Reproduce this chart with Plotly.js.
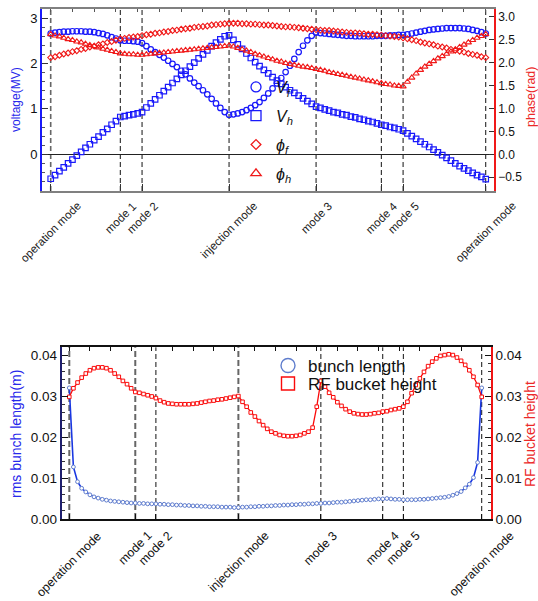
<!DOCTYPE html>
<html>
<head>
<meta charset="utf-8">
<script src="https://cdn.plot.ly/plotly-3.0.1.min.js"></script>
<style>
html,body{margin:0;padding:0;background:#fff;}
#chart{width:538px;height:601px;}
</style>
</head>
<body>
<div id="chart"></div>
<script>
// ---------------- data ----------------
const modePos = [0, 16, 21, 41, 61, 76, 81, 100];
const modeLabels = ["operation mode", "mode 1", "mode 2", "injection mode", "mode 3", "mode 4", "mode 5", "operation mode"];

// top panel: voltages (MV) and phases (rad), one value per sample index
const Vf = [2.66, 2.68, 2.69, 2.70, 2.70, 2.71, 2.71, 2.71, 2.70, 2.70, 2.69, 2.67, 2.65, 2.62, 2.58, 2.55, 2.51,
  2.50, 2.50, 2.49, 2.48, 2.45,
  2.38, 2.31, 2.25, 2.19, 2.13, 2.06, 1.99, 1.92, 1.84, 1.76, 1.67, 1.58, 1.50, 1.41, 1.32, 1.22, 1.12, 1.02, 0.93, 0.87,
  0.88, 0.90, 0.93, 0.97, 1.02, 1.08, 1.15, 1.24, 1.34, 1.45, 1.56, 1.68, 1.81, 1.95, 2.10, 2.25, 2.39, 2.51, 2.61, 2.68,
  2.67, 2.66, 2.65, 2.64, 2.63, 2.62, 2.61, 2.61, 2.60, 2.60, 2.60, 2.60, 2.60, 2.61, 2.61,
  2.61, 2.62, 2.62, 2.63, 2.63,
  2.64, 2.66, 2.68, 2.70, 2.72, 2.74, 2.75, 2.76, 2.77, 2.78, 2.78, 2.78, 2.78, 2.77, 2.76, 2.74, 2.72, 2.69, 2.66];

const Vh = [-0.54, -0.46, -0.37, -0.29, -0.20, -0.12, -0.03, 0.05, 0.14, 0.22, 0.31, 0.39, 0.48, 0.56, 0.65, 0.73, 0.82,
  0.84, 0.86, 0.88, 0.90, 0.93,
  1.03, 1.12, 1.21, 1.30, 1.39, 1.48, 1.57, 1.66, 1.75, 1.84, 1.93, 2.02, 2.11, 2.20, 2.29, 2.38, 2.46, 2.53, 2.60, 2.62,
  2.52, 2.42, 2.32, 2.22, 2.12, 2.03, 1.94, 1.86, 1.78, 1.70, 1.62, 1.55, 1.48, 1.41, 1.35, 1.29, 1.23, 1.17, 1.11, 1.05,
  1.02, 0.99, 0.96, 0.93, 0.91, 0.88, 0.86, 0.83, 0.81, 0.78, 0.76, 0.73, 0.71, 0.68, 0.65,
  0.63, 0.60, 0.58, 0.55, 0.52,
  0.46, 0.40, 0.34, 0.28, 0.22, 0.16, 0.10, 0.04, -0.02, -0.08, -0.14, -0.20, -0.26, -0.31, -0.36, -0.41, -0.46, -0.50, -0.55];

const phiF = [2.11, 2.13, 2.16, 2.19, 2.21, 2.24, 2.26, 2.29, 2.31, 2.34, 2.36, 2.39, 2.41, 2.44, 2.46, 2.49, 2.52,
  2.53, 2.55, 2.56, 2.57, 2.59,
  2.61, 2.62, 2.64, 2.65, 2.67, 2.68, 2.70, 2.71, 2.73, 2.74, 2.75, 2.77, 2.78, 2.79, 2.80, 2.82, 2.83, 2.84, 2.85, 2.86,
  2.86, 2.86, 2.85, 2.85, 2.84, 2.84, 2.83, 2.82, 2.82, 2.81, 2.80, 2.79, 2.78, 2.78, 2.77, 2.76, 2.75, 2.74, 2.73, 2.72,
  2.71, 2.70, 2.70, 2.69, 2.68, 2.67, 2.66, 2.65, 2.65, 2.64, 2.63, 2.62, 2.62, 2.61, 2.60,
  2.59, 2.58, 2.57, 2.56, 2.54,
  2.52, 2.50, 2.48, 2.45, 2.43, 2.41, 2.39, 2.36, 2.34, 2.32, 2.29, 2.27, 2.25, 2.23, 2.20, 2.18, 2.16, 2.13, 2.11];

const phiH = [2.62, 2.59, 2.57, 2.54, 2.51, 2.49, 2.46, 2.44, 2.41, 2.38, 2.36, 2.33, 2.30, 2.28, 2.25, 2.23, 2.20,
  2.19, 2.18, 2.18, 2.17, 2.17,
  2.18, 2.19, 2.20, 2.21, 2.22, 2.23, 2.24, 2.25, 2.26, 2.27, 2.28, 2.29, 2.30, 2.31, 2.32, 2.33, 2.34, 2.35, 2.36, 2.37,
  2.35, 2.32, 2.29, 2.26, 2.23, 2.19, 2.16, 2.13, 2.10, 2.07, 2.04, 2.02, 1.99, 1.97, 1.95, 1.93, 1.91, 1.90, 1.88, 1.86,
  1.84, 1.82, 1.79, 1.77, 1.75, 1.73, 1.71, 1.69, 1.67, 1.65, 1.63, 1.61, 1.59, 1.57, 1.55,
  1.53, 1.52, 1.50, 1.49, 1.48,
  1.58, 1.67, 1.76, 1.84, 1.91, 1.97, 2.03, 2.09, 2.14, 2.19, 2.24, 2.29, 2.34, 2.39, 2.44, 2.49, 2.54, 2.58, 2.62];

// bottom panel: rms bunch length (m) and RF bucket height
const bunchLength = [0.0320, 0.0127, 0.0091, 0.0075, 0.0066, 0.0059, 0.0054, 0.0051, 0.0048, 0.0046, 0.0044, 0.0043, 0.0042, 0.0041, 0.0040, 0.0039, 0.0039,
  0.0038, 0.0038, 0.0037, 0.0037, 0.0037,
  0.0036, 0.0036, 0.0035, 0.0035, 0.0034, 0.0034, 0.0033, 0.0033, 0.0032, 0.0032, 0.0031, 0.0031, 0.0030, 0.0030, 0.0030, 0.0029, 0.0029, 0.0029, 0.0028, 0.0028,
  0.0029, 0.0029, 0.0030, 0.0030, 0.0031, 0.0031, 0.0032, 0.0032, 0.0033, 0.0033, 0.0034, 0.0034, 0.0035, 0.0035, 0.0036, 0.0036, 0.0037, 0.0037, 0.0038, 0.0038,
  0.0039, 0.0039, 0.0040, 0.0041, 0.0041, 0.0042, 0.0043, 0.0044, 0.0045, 0.0046, 0.0047, 0.0047, 0.0048, 0.0049, 0.0049,
  0.0050, 0.0049, 0.0048, 0.0048, 0.0047,
  0.0047, 0.0047, 0.0047, 0.0048, 0.0048, 0.0049, 0.0050, 0.0051, 0.0052, 0.0053, 0.0055, 0.0058, 0.0062, 0.0067, 0.0076, 0.0085, 0.0101, 0.0138, 0.0320];

const bucketHeight = [0.0298, 0.0319, 0.0333, 0.0345, 0.0355, 0.0363, 0.0368, 0.0370, 0.0370, 0.0368, 0.0363, 0.0355, 0.0347, 0.0337, 0.0329, 0.0319, 0.0310,
  0.0308, 0.0305, 0.0302, 0.0299, 0.0295,
  0.0289, 0.0285, 0.0282, 0.0281, 0.0280, 0.0280, 0.0280, 0.0280, 0.0281, 0.0282, 0.0284, 0.0286, 0.0288, 0.0289, 0.0291, 0.0292, 0.0294, 0.0296, 0.0298, 0.0300,
  0.0286, 0.0274, 0.0260, 0.0250, 0.0239, 0.0229, 0.0220, 0.0213, 0.0209, 0.0205, 0.0203, 0.0202, 0.0202, 0.0203, 0.0205, 0.0209, 0.0213, 0.0223, 0.0274, 0.0337,
  0.0323, 0.0308, 0.0297, 0.0285, 0.0276, 0.0268, 0.0262, 0.0258, 0.0256, 0.0255, 0.0255, 0.0256, 0.0258, 0.0259, 0.0262,
  0.0263, 0.0266, 0.0268, 0.0270, 0.0274,
  0.0286, 0.0307, 0.0327, 0.0343, 0.0359, 0.0373, 0.0384, 0.0392, 0.0398, 0.0400, 0.0402, 0.0400, 0.0394, 0.0386, 0.0376, 0.0363, 0.0347, 0.0327, 0.0298];

// ---------------- styling ----------------
const W = 538, H = 601;
const px = v => v / W;
const py = v => 1 - v / H;
const FONT = "Liberation Sans, Arial, Helvetica, sans-serif";
const BLUE = "rgb(25,25,250)";
const RED = "rgb(240,25,25)";
const LBLUE = "rgb(95,125,205)";
const LINEBLUE = "rgb(25,55,225)";
const BRED = "rgb(250,10,10)";

const traces = [
  {y: Vf, xaxis: "x", yaxis: "y", mode: "markers", showlegend: false, name: "Vf",
   marker: {symbol: "circle-open", size: 5.5, color: BLUE, line: {width: 1.2, color: BLUE}}},
  {y: Vh, xaxis: "x", yaxis: "y", mode: "markers", showlegend: false, name: "Vh",
   marker: {symbol: "square-open", size: 5.5, color: BLUE, line: {width: 1.2, color: BLUE}}},
  {y: phiF, xaxis: "x", yaxis: "y2", mode: "markers", showlegend: false, name: "phif",
   marker: {symbol: "diamond-open", size: 4.5, color: RED, line: {width: 1.1, color: RED}}},
  {y: phiH, xaxis: "x", yaxis: "y2", mode: "markers", showlegend: false, name: "phih",
   marker: {symbol: "triangle-up-open", size: 5.5, color: RED, line: {width: 1.1, color: RED}}},
  // legend entries (top)
  {x: [null], y: [null], xaxis: "x", yaxis: "y", mode: "markers", name: "<i>V<sub>f</sub></i>", legendgroup: "a", legend: "legend",
   marker: {symbol: "circle-open", size: 10, color: BLUE, line: {width: 1.3, color: BLUE}}},
  {x: [null], y: [null], xaxis: "x", yaxis: "y", mode: "markers", name: "<i>V<sub>h</sub></i>", legendgroup: "b", legend: "legend",
   marker: {symbol: "square-open", size: 10, color: BLUE, line: {width: 1.3, color: BLUE}}},
  {x: [null], y: [null], xaxis: "x", yaxis: "y", mode: "markers", name: "<i>\u03d5<sub>f</sub></i>", legendgroup: "c", legend: "legend",
   marker: {symbol: "diamond-open", size: 7.5, color: RED, line: {width: 1.3, color: RED}}},
  {x: [null], y: [null], xaxis: "x", yaxis: "y", mode: "markers", name: "<i>\u03d5<sub>h</sub></i>", legendgroup: "d", legend: "legend",
   marker: {symbol: "triangle-up-open", size: 9, color: RED, line: {width: 1.3, color: RED}}},
  // bottom panel
  {y: bucketHeight, xaxis: "x2", yaxis: "y4", mode: "lines+markers", showlegend: false, name: "RF bucket height",
   line: {color: BRED, width: 1.3},
   marker: {symbol: "square", size: 3.6, color: "white", line: {width: 1, color: BRED}}},
  {y: bunchLength, xaxis: "x2", yaxis: "y3", mode: "lines+markers", showlegend: false, name: "bunch length",
   line: {color: LINEBLUE, width: 1.6},
   marker: {symbol: "circle", size: 3.8, color: "white", line: {width: 1, color: LBLUE}}},
  {x: [null], y: [null], xaxis: "x2", yaxis: "y3", mode: "markers", name: "bunch length", legend: "legend2",
   marker: {symbol: "circle-open", size: 14, color: LBLUE, line: {width: 1.4, color: LBLUE}}},
  {x: [null], y: [null], xaxis: "x2", yaxis: "y3", mode: "markers", name: "RF bucket height", legend: "legend3",
   marker: {symbol: "square-open", size: 13, color: BRED, line: {width: 1.4, color: BRED}}},
  // empty traces that register the top tick-only axes
  {x: [], y: [], xaxis: "x3", yaxis: "y", mode: "markers", showlegend: false, hoverinfo: "skip"},
  {x: [], y: [], xaxis: "x4", yaxis: "y3", mode: "markers", showlegend: false, hoverinfo: "skip"}
];

const shapes = [];
modePos.forEach((p, i) => {
  shapes.push({type: "line", xref: "x", yref: "y domain", x0: p, x1: p, y0: 0, y1: 1, layer: "below",
    line: {color: i === 0 ? "#666" : "#111", width: i === 0 ? 1.6 : 1, dash: "5px,3px"}});
  const gray = (i === 0 || i === 1 || i === 3);
  shapes.push({type: "line", xref: "x2", yref: "y3 domain", x0: p, x1: p, y0: 0, y1: 1, layer: "below",
    line: {color: gray ? "#666" : "#111", width: gray ? 2 : 1, dash: gray ? "6px,3px" : "5px,3px"}});
});

const annotations = [];
modePos.forEach((p, i) => {
  annotations.push({x: p, xref: "x", y: py(197), yref: "paper", xanchor: "center", yanchor: "top",
    text: modeLabels[i], textangle: -45, showarrow: false, font: {family: FONT, size: 11.5, color: "#222"}});
  annotations.push({x: p, xref: "x2", y: py(526), yref: "paper", xanchor: "center", yanchor: "top",
    text: modeLabels[i], textangle: -45, showarrow: false, font: {family: FONT, size: 12.3, color: "#111"}});
});
const titleAnn = (text, x, y, size, color) => ({x: px(x), y: py(y), xref: "paper", yref: "paper",
  xanchor: "center", yanchor: "middle", text: text, textangle: -90, showarrow: false,
  font: {family: FONT, size: size, color: color}});
annotations.push(titleAnn("voltage(MV)", 16, 100, 12, "rgb(40,40,235)"));
annotations.push(titleAnn("phase(rad)", 531, 97, 12.5, "rgb(235,40,40)"));
annotations.push(titleAnn("rms bunch length(m)", 16, 434, 14, "rgb(40,40,235)"));
annotations.push(titleAnn("RF bucket height", 530, 434, 14, "rgb(235,40,40)"));

const tickFont = {family: FONT, size: 13, color: "#111"};
const layout = {
  width: W, height: H,
  margin: {l: 0, r: 0, t: 0, b: 0},
  paper_bgcolor: "white", plot_bgcolor: "white",
  font: {family: FONT},
  showlegend: true,
  xaxis: {domain: [px(42), px(494)], range: [-2, 101.9], anchor: "y",
    tickmode: "array", tickvals: modePos, showticklabels: false, ticks: "inside", ticklen: 7, tickcolor: "#333",
    showline: true, linecolor: "#808080", linewidth: 2, mirror: true, showgrid: false, zeroline: false},
  xaxis3: {overlaying: "x", side: "top", anchor: "y", range: [-2, 101.9],
    tick0: 0, dtick: 5, ticks: "inside", ticklen: 3, tickcolor: "#555", showticklabels: false,
    showline: false, showgrid: false, zeroline: false},
  yaxis: {domain: [py(191), py(9)], range: [-0.81, 3.2], anchor: "x",
    tick0: 0, dtick: 1, ticks: "inside", ticklen: 6, tickcolor: "#333", tickfont: tickFont,
    minor: {dtick: 0.2, ticks: "inside", ticklen: 3, tickcolor: "#555", showgrid: false},
    showline: true, linecolor: BLUE, linewidth: 1.6, showgrid: false,
    zeroline: true, zerolinecolor: "#222", zerolinewidth: 1},
  yaxis2: {overlaying: "y", side: "right", anchor: "x", range: [-0.80, 3.17],
    tick0: 0, dtick: 0.5, tickformat: ".1f", ticks: "inside", ticklen: 5, tickcolor: "#333",
    tickfont: {family: FONT, size: 12, color: "#111"},
    showline: true, linecolor: RED, linewidth: 1.6, showgrid: false, zeroline: false},
  xaxis2: {domain: [px(61.7), px(490.7)], range: [-1.84, 102.18], anchor: "y3",
    tickmode: "array", tickvals: modePos, showticklabels: false, ticks: "inside", ticklen: 5, tickcolor: "#111",
    showline: true, linecolor: "#111", linewidth: 2, mirror: true, showgrid: false, zeroline: false},
  xaxis4: {overlaying: "x2", side: "top", anchor: "y3", range: [-1.84, 102.18],
    tick0: 0, dtick: 5, ticks: "inside", ticklen: 4, tickcolor: "#111", showticklabels: false,
    showline: false, showgrid: false, zeroline: false},
  yaxis3: {domain: [py(519), py(347.3)], range: [0, 0.0419], anchor: "x2",
    tick0: 0, dtick: 0.01, tickformat: ".2f", ticks: "inside", ticklen: 6, tickcolor: "#111",
    tickfont: {family: FONT, size: 13.5, color: "#111"},
    minor: {dtick: 0.002, ticks: "inside", ticklen: 3, tickcolor: "#333", showgrid: false},
    showline: true, linecolor: "rgb(30,30,110)", linewidth: 2, showgrid: false, zeroline: false},
  yaxis4: {overlaying: "y3", side: "right", anchor: "x2", range: [0, 0.0419],
    tick0: 0, dtick: 0.01, tickformat: ".2f", ticks: "inside", ticklen: 6, tickcolor: "#111",
    tickfont: {family: FONT, size: 13.5, color: "#111"},
    minor: {dtick: 0.002, ticks: "inside", ticklen: 3, tickcolor: "#333", showgrid: false},
    showline: true, linecolor: "rgb(240,20,20)", linewidth: 2, showgrid: false, zeroline: false},
  legend: {x: px(236), xanchor: "left", y: py(70), yanchor: "top", bgcolor: "rgba(0,0,0,0)",
    font: {family: FONT, size: 16, color: "#111"}, traceorder: "grouped", tracegroupgap: 5},
  legend2: {x: px(268), xanchor: "left", y: py(348), yanchor: "top", bgcolor: "rgba(0,0,0,0)",
    font: {family: FONT, size: 17, color: "#111"}},
  legend3: {x: px(268), xanchor: "left", y: py(366), yanchor: "top", bgcolor: "rgba(0,0,0,0)",
    font: {family: FONT, size: 17, color: "#111"}},
  shapes: shapes,
  annotations: annotations
};

Plotly.newPlot("chart", traces, layout, {displayModeBar: false, responsive: false});
</script>
</body>
</html>
